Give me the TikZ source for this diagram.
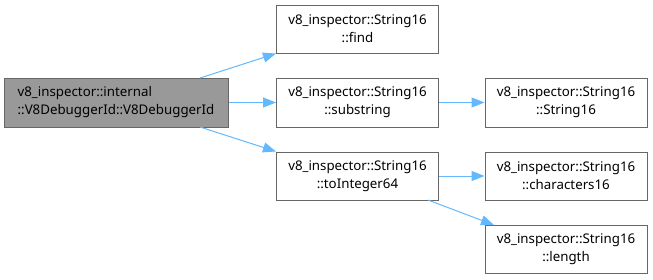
\documentclass[tikz,border=0pt]{standalone}
\usepackage{fontspec}
\setmainfont{Noto Sans}
\usetikzlibrary{arrows.meta}
\definecolor{edgeblue}{HTML}{63B8FF}
\definecolor{boxgray}{HTML}{999999}
\definecolor{boxline}{HTML}{666666}
\tikzset{
  fn/.style={draw=boxline, line width=1pt, fill=white, minimum height=48pt,
    minimum width=162pt, align=center, inner sep=0pt,
    font=\fontsize{13.3}{18}\selectfont},
  curfn/.style={fn, fill=boxgray, align=left},
  call/.style={draw=edgeblue, line width=1pt,
    -{Triangle[length=13pt,width=10pt]}},
}
\begin{document}
\begin{tikzpicture}[x=1pt,y=-1pt]
  \useasboundingbox (0,0) rectangle (653,279);
  % caller
  \node[curfn, minimum width=224pt, minimum height=49pt] (main) at (116,102.5)
    {v8\_inspector::internal\\::V8DebuggerId::V8DebuggerId};
  % first level callees
  \node[fn] (find) at (357.5,29)
    {v8\_inspector::String16\\::find};
  \node[fn, minimum height=49pt] (sub) at (357.5,102.5)
    {v8\_inspector::String16\\::substring};
  \node[fn] (toint) at (357.5,176)
    {v8\_inspector::String16\\::toInteger64};
  % second level callees
  \node[fn, minimum height=49pt] (ctor) at (566,102.5)
    {v8\_inspector::String16\\::String16};
  \node[fn] (chars) at (566,176)
    {v8\_inspector::String16\\::characters16};
  \node[fn] (len) at (566,249)
    {v8\_inspector::String16\\::length};
  % calls
  \coordinate (m1) at (200,78);
  \coordinate (m3) at (200,127);
  \coordinate (t2) at (428,200);
  \coordinate (l1) at (494,225);
  \draw[call] (m1) -- (find.south west);
  \draw[call] (main) -- (sub);
  \draw[call] (m3) -- (toint.north west);
  \draw[call] (sub) -- (ctor);
  \draw[call] (toint) -- (chars);
  \draw[call] (t2) -- (l1);
\end{tikzpicture}
\end{document}
